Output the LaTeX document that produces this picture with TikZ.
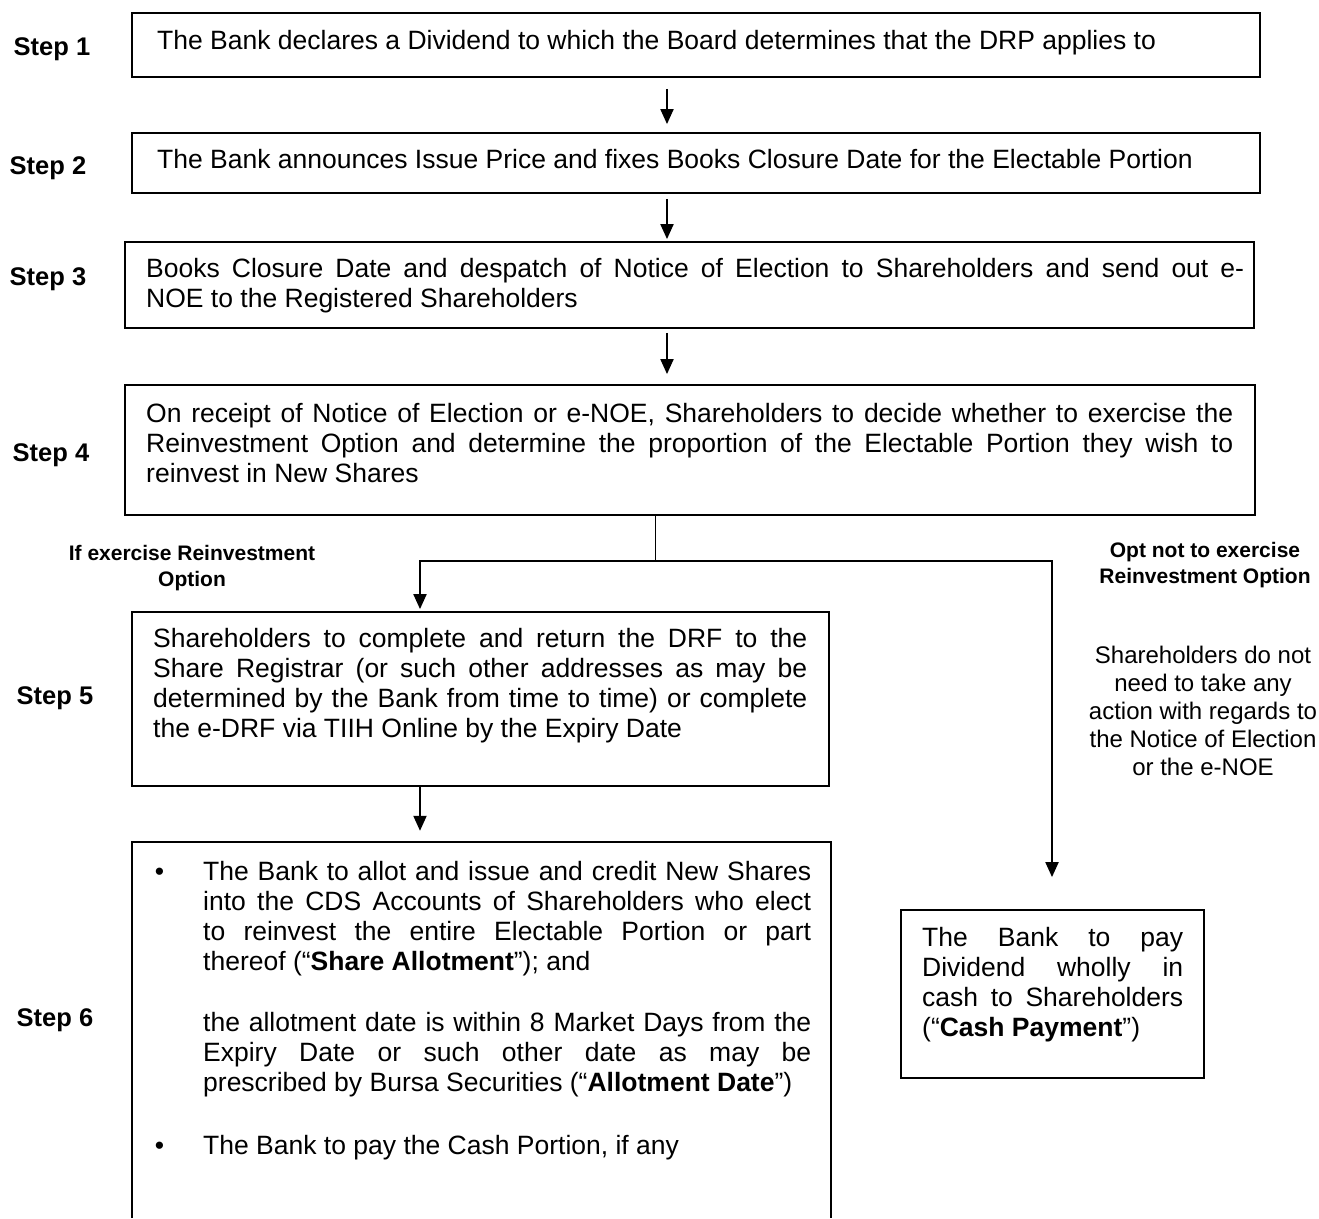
\documentclass[tikz,border=0pt]{standalone}
\usepackage{fontspec}
\setmainfont{Liberation Sans}
\usetikzlibrary{arrows.meta}
\pgfdeclarelayer{edgelayer}
\pgfdeclarelayer{nodelayer}
\pgfsetlayers{edgelayer,nodelayer,main}
\tikzset{font=\fontsize{26.5}{30}\selectfont}
\tikzstyle{none}=[inner sep=0pt]
\tikzstyle{box}=[draw,line width=1.8pt,inner sep=0pt]
\tikzstyle{stepno}=[inner sep=0pt,anchor=base,font=\fontsize{25.5}{30}\selectfont\bfseries]
\tikzstyle{oneline}=[inner sep=0pt,anchor=base west]
\tikzstyle{body}=[inner sep=0pt,anchor=north west,align=justify]
\tikzstyle{note}=[inner sep=0pt,anchor=north,align=center,font=\fontsize{24}{28}\selectfont]
\tikzstyle{choice}=[inner sep=0pt,anchor=north,align=center,font=\fontsize{21}{26}\selectfont\bfseries]
\tikzstyle{arr}=[line width=2pt,-{Triangle[width=13pt,length=15pt]}]
\hyphenpenalty=10000
\exhyphenpenalty=10000
\newcommand{\bul}{\llap{•\hspace{39pt}}}

\begin{document}
\begin{tikzpicture}[x=1pt,y=-1pt]
	\useasboundingbox (0,0) rectangle (1319,1218);
	\begin{pgfonlayer}{nodelayer}
		\node [style=stepno] (s1) at (52, 55) {Step 1};
		\node [style=stepno] (s2) at (48, 174) {Step 2};
		\node [style=stepno] (s3) at (48, 285) {Step 3};
		\node [style=stepno] (s4) at (51, 461) {Step 4};
		\node [style=stepno] (s5) at (55, 704) {Step 5};
		\node [style=stepno] (s6) at (55, 1026) {Step 6};
		\node [style=box, minimum width=1128pt, minimum height=64pt] (b1) at (696, 45) {};
		\node [style=box, minimum width=1128pt, minimum height=60pt] (b2) at (696, 163) {};
		\node [style=box, minimum width=1129pt, minimum height=86pt] (b3) at (689.5, 285) {};
		\node [style=box, minimum width=1130pt, minimum height=130pt] (b4) at (690, 450) {};
		\node [style=box, minimum width=697pt, minimum height=174pt] (b5) at (480.5, 699) {};
		\node [style=none, minimum width=699pt, minimum height=376pt] (b6) at (481.5, 1030) {};
		\node [style=box, minimum width=303pt, minimum height=168pt] (b7) at (1052.5, 994) {};
		\node [style=oneline] (t1) at (157, 49) {The Bank declares a Dividend to which the Board determines that the DRP applies to};
		\node [style=oneline] (t2) at (157, 168) {The Bank announces Issue Price and fixes Books Closure Date for the Electable Portion};
		\node [style=body, text width=1098pt] (t3) at (146, 256.5) {\strut Books Closure Date and despatch of Notice of Election to Shareholders and send out e-\linebreak NOE to the Registered Shareholders};
		\node [style=body, text width=1087pt] (t4) at (146, 401.5) {\strut On receipt of Notice of Election or e-NOE, Shareholders to decide whether to exercise the\linebreak Reinvestment Option and determine the proportion of the Electable Portion they wish to\linebreak reinvest in New Shares};
		\node [style=body, text width=654pt] (t5) at (153, 626.5) {\strut Shareholders to complete and return the DRF to the\linebreak Share Registrar (or such other addresses as may be\linebreak determined by the Bank from time to time) or complete\linebreak the e-DRF via TIIH Online by the Expiry Date};
		\node [style=body, text width=608pt] (t6) at (203, 859.5) {\strut\bul The Bank to allot and issue and credit New Shares\linebreak into the CDS Accounts of Shareholders who elect\linebreak to reinvest the entire Electable Portion or part\linebreak thereof (“\textbf{Share Allotment}”); and\\[31pt]
			the allotment date is within 8 Market Days from the\linebreak Expiry Date or such other date as may be\linebreak prescribed by Bursa Securities (“\textbf{Allotment Date}”)\\[33pt]
			\bul The Bank to pay the Cash Portion, if any};
		\node [style=body, text width=261pt] (t7) at (922, 925.5) {\strut The Bank to pay\linebreak Dividend wholly in\linebreak cash to Shareholders\linebreak (“\textbf{Cash Payment}”)};
		\node [style=choice] (yes) at (192, 542) {\strut If exercise Reinvestment\\Option};
		\node [style=choice] (no) at (1205, 539) {\strut Opt not to exercise\\Reinvestment Option};
		\node [style=note] (n1) at (1203, 644) {\strut Shareholders do not\\need to take any\\action with regards to\\the Notice of Election\\or the e-NOE};
		\coordinate (c) at (667, 0);
		\coordinate (j) at (655, 561);
		\coordinate (l) at (420, 561);
		\coordinate (r) at (1052, 561);
	\end{pgfonlayer}
	\begin{pgfonlayer}{edgelayer}
		\draw[style=arr, shorten <=11pt, shorten >=8pt] (b1.south -| c) to (b2.north -| c);
		\draw[style=arr, shorten <=5pt, shorten >=2pt] (b2.south -| c) to (b3.north -| c);
		\draw[style=arr, shorten <=4pt, shorten >=10pt] (b3.south -| c) to (b4.north -| c);
		\draw[line width=1pt] (b4.south -| j) to (j);
		\draw[style=arr, shorten >=2pt] (j) -- (l) -- (b5.north -| l);
		\draw[style=arr, shorten >=32pt] (j) -- (r) -- (b7.north -| r);
		\draw[style=arr, shorten >=11pt] (b5.south -| l) to (b6.north -| l);
		\draw[line width=1.8pt] (b6.south west) -- (b6.north west) -- (b6.north east) -- (b6.south east);
	\end{pgfonlayer}
\end{tikzpicture}
\end{document}
